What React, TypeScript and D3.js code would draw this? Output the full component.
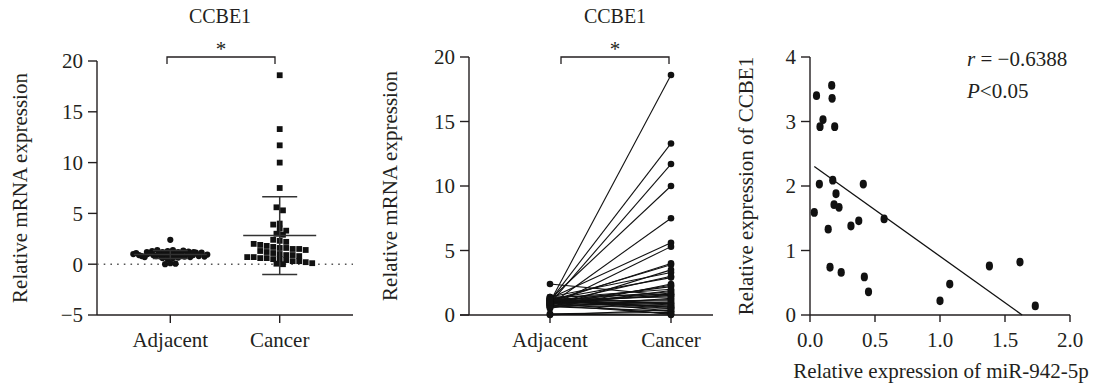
import React from "react";
import * as d3 from "d3";

// ---------- data ----------
const groups = ["Adjacent", "Cancer"];
const cancer = [18.6, 13.3, 11.7, 10.0, 7.5, 5.6, 5.3, 4.0, 3.9, 3.5, 3.3, 3.0, 2.9, 2.4, 2.3, 2.2, 2.0, 1.9, 1.8, 1.7, 1.6, 1.6, 1.5, 1.5, 1.4, 1.3, 1.2, 1.1, 1.0, 0.9, 0.9, 0.8, 0.7, 0.7, 0.6, 0.6, 0.5, 0.5, 0.4, 0.3, 0.3, 0.2, 0.1, 0.05, 0.0];
const adjacent = [1.0, 1.1, 0.9, 1.2, 0.8, 1.3, 0.7, 1.0, 1.1, 0.6, 1.4, 0.9, 1.2, 0.5, 0.8, 1.0, 1.3, 0.7, 1.1, 0.9, 1.4, 0.85, 2.4, 1.0, 1.2, 0.6, 0.95, 1.1, 0.9, 1.35, 0.75, 1.05, 0.7, 0.9, 1.25, 1.15, 0.8, 1.15, 0.0, 0.65, 1.2, 0.1, 0.75, 0.95, 0.05];
const yTicks1 = [-5, 0, 5, 10, 15, 20];
const yTicks2 = [0, 5, 10, 15, 20];
const mirX = [0.05, 0.167, 0.17, 0.10, 0.077, 0.19, 0.072, 0.175, 0.41, 0.2, 0.033, 0.185, 0.223, 0.14, 0.315, 0.375, 0.57, 0.154, 0.24, 0.418, 0.45, 1.0, 1.075, 1.38, 1.615, 1.733];
const ccbeY = [3.40, 3.56, 3.36, 3.03, 2.92, 2.92, 2.03, 2.09, 2.03, 1.88, 1.59, 1.71, 1.67, 1.33, 1.38, 1.46, 1.49, 0.74, 0.66, 0.59, 0.36, 0.22, 0.48, 0.76, 0.82, 0.14];
const fitSlope = -1.44; // regression line
const fitIntercept = 2.35;
const xTicks3 = [0, 0.5, 1.0, 1.5, 2.0];
const yTicks3 = [0, 1, 2, 3, 4];

const FONT = "'Liberation Serif', 'Times New Roman', 'DejaVu Serif', serif";
const INK = "#231f20";
const FS = 21;

function swarm(values: number[], y: (v: number) => number, cx: number, size: number, maxHalf: number) {
  const bins = new Map<number, number[]>();
  values.forEach((v, i) => {
    const k = Math.round(y(v) / size);
    if (!bins.has(k)) bins.set(k, []);
    bins.get(k)!.push(i);
  });
  const xs = new Array(values.length).fill(cx);
  bins.forEach((idx) => {
    const n = idx.length;
    if (n < 2) return;
    const sp = Math.min(size, (2 * maxHalf) / (n - 1));
    idx.forEach((i, j) => {
      xs[i] = cx + (j - (n - 1) / 2) * sp;
    });
  });
  return xs;
}

function YAxis({ scale, ticks, x, fmt }: any) {
  const [r0, r1] = scale.range();
  return (
    <g>
      <line x1={x} x2={x} y1={r0} y2={r1} stroke={INK} strokeWidth={1.4} />
      {ticks.map((t: number) => (
        <g key={t}>
          <line x1={x - 9} x2={x} y1={scale(t)} y2={scale(t)} stroke={INK} strokeWidth={1.4} />
          <text x={x - 14} y={scale(t)} dy="0.35em" textAnchor="end" fontSize={FS} style={{ fontFamily: FONT }} fill={INK}>
            {fmt ? fmt(t) : t < 0 ? "\u2212" + Math.abs(t) : t}
          </text>
        </g>
      ))}
    </g>
  );
}

function Bracket({ x1, x2, y }: any) {
  return (
    <g>
      <path d={`M${x1},${y + 7}V${y}H${x2}V${y + 7}`} fill="none" stroke={INK} strokeWidth={1.3} />
      <text x={(x1 + x2) / 2} y={y - 1} textAnchor="middle" fontSize={FS} style={{ fontFamily: FONT }} fill={INK}>*</text>
    </g>
  );
}

export default function App() {
  // ---------- panel 1 ----------
  const y1 = d3.scaleLinear().domain([-5, 20]).range([315, 61]);
  const x1 = d3.scalePoint<string>().domain(groups).range([97, 353]).padding(0.67);
  const xa = x1("Adjacent")!;
  const xc = x1("Cancer")!;
  const adjX = swarm(adjacent, y1, xa, 5.2, 37);
  const canX = swarm(cancer, y1, xc, 6.5, 36);
  const stats = [adjacent, cancer].map((arr) => ({ m: d3.mean(arr)!, s: d3.deviation(arr)! }));

  // ---------- panel 2 ----------
  const y2 = d3.scaleLinear().domain([0, 20]).range([315, 57]);
  const x2 = d3.scalePoint<string>().domain(groups).range([550, 671]);
  const lineGen = d3.line<[number, number]>().x((d) => d[0]).y((d) => d[1]);

  // ---------- panel 3 ----------
  const x3 = d3.scaleLinear().domain([0, 2]).range([810, 1070]);
  const y3 = d3.scaleLinear().domain([0, 4]).range([315, 57]);
  const fx0 = d3.min(mirX)!;
  const fx1 = Math.min(d3.max(mirX)!, -fitIntercept / fitSlope);

  const T = { fontSize: FS, fill: INK, style: { fontFamily: FONT } } as any;

  return (
    <svg width={1094} height={385} style={{ position: "absolute", left: 0, top: 0, background: "#fff", fontFamily: FONT }}>
      {/* ===== Panel 1 ===== */}
      <text x={220} y={23} textAnchor="middle" {...T} fontSize={20}>CCBE1</text>
      <Bracket x1={167} x2={275} y={57} />
      <text transform="translate(27,188) rotate(-90)" textAnchor="middle" {...T}>Relative mRNA expression</text>
      <YAxis scale={y1} ticks={yTicks1} x={97} />
      <line x1={97} x2={353} y1={315} y2={315} stroke={INK} strokeWidth={1.4} />
      {groups.map((g) => (
        <g key={g}>
          <line x1={x1(g)} x2={x1(g)} y1={315} y2={323} stroke={INK} strokeWidth={1.4} />
          <text x={x1(g)} y={347} textAnchor="middle" {...T}>{g}</text>
        </g>
      ))}
      <line x1={97} x2={353} y1={y1(0)} y2={y1(0)} stroke="#555" strokeWidth={1.6} strokeDasharray="1.6,5.1" />
      {adjacent.map((v, i) => (
        <circle key={"a" + i} cx={adjX[i]} cy={y1(v)} r={3.1} fill="#111" />
      ))}
      {cancer.map((v, i) => (
        <rect key={"c" + i} x={canX[i] - 2.9} y={y1(v) - 2.9} width={5.8} height={5.8} fill="#111" />
      ))}
      {[xa, xc].map((cx, k) => (
        <g key={"eb" + k} stroke="#333" strokeWidth={1.5}>
          <line x1={cx - 36.5} x2={cx + 36.5} y1={y1(stats[k].m)} y2={y1(stats[k].m)} />
          <line x1={cx} x2={cx} y1={y1(stats[k].m - stats[k].s)} y2={y1(stats[k].m + stats[k].s)} />
          <line x1={cx - 17.5} x2={cx + 17.5} y1={y1(stats[k].m + stats[k].s)} y2={y1(stats[k].m + stats[k].s)} />
          <line x1={cx - 17.5} x2={cx + 17.5} y1={y1(stats[k].m - stats[k].s)} y2={y1(stats[k].m - stats[k].s)} />
        </g>
      ))}

      {/* ===== Panel 2 ===== */}
      <text x={615} y={23} textAnchor="middle" {...T} fontSize={20}>CCBE1</text>
      <Bracket x1={561} x2={669} y={57} />
      <text transform="translate(397,186) rotate(-90)" textAnchor="middle" {...T}>Relative mRNA expression</text>
      <YAxis scale={y2} ticks={yTicks2} x={469} />
      <line x1={460} x2={713} y1={315} y2={315} stroke={INK} strokeWidth={1.4} />
      {groups.map((g) => (
        <g key={g}>
          <line x1={x2(g)} x2={x2(g)} y1={315} y2={323} stroke={INK} strokeWidth={1.4} />
          <text x={x2(g)} y={347} textAnchor="middle" {...T}>{g}</text>
        </g>
      ))}
      {adjacent.map((v, i) => (
        <path key={"l" + i} d={lineGen([[x2("Adjacent")!, y2(v)], [x2("Cancer")!, y2(cancer[i])]])!} stroke="#111" strokeWidth={1.1} fill="none" />
      ))}
      {adjacent.map((v, i) => (
        <g key={"p" + i} fill="#111">
          <circle cx={x2("Adjacent")} cy={y2(v)} r={3.3} />
          <circle cx={x2("Cancer")} cy={y2(cancer[i])} r={3.3} />
        </g>
      ))}

      {/* ===== Panel 3 ===== */}
      <text transform="translate(753,186) rotate(-90)" textAnchor="middle" {...T}>Relative expression of CCBE1</text>
      <YAxis scale={y3} ticks={yTicks3} x={810} fmt={(t: number) => String(t)} />
      <line x1={810} x2={1070} y1={315} y2={315} stroke={INK} strokeWidth={1.4} />
      {xTicks3.map((t) => (
        <g key={t}>
          <line x1={x3(t)} x2={x3(t)} y1={315} y2={322} stroke={INK} strokeWidth={1.4} />
          <text x={x3(t)} y={347} textAnchor="middle" {...T}>{t.toFixed(1)}</text>
        </g>
      ))}
      <text x={941} y={378} textAnchor="middle" {...T}>Relative expression of miR-942-5p</text>
      <line x1={x3(fx0)} y1={y3(fitIntercept + fitSlope * fx0)} x2={x3(fx1)} y2={y3(fitIntercept + fitSlope * fx1)} stroke="#111" strokeWidth={1.3} />
      {mirX.map((xv, i) => (
        <ellipse key={"s" + i} cx={x3(xv)} cy={y3(ccbeY[i])} rx={3.6} ry={4.4} fill="#111" />
      ))}
      <text x={967} y={66} {...T}>
        <tspan fontStyle="italic">r</tspan> = {"\u2212"}0.6388
      </text>
      <text x={967} y={98} {...T}>
        <tspan fontStyle="italic">P</tspan>{"<0.05"}
      </text>
    </svg>
  );
}
